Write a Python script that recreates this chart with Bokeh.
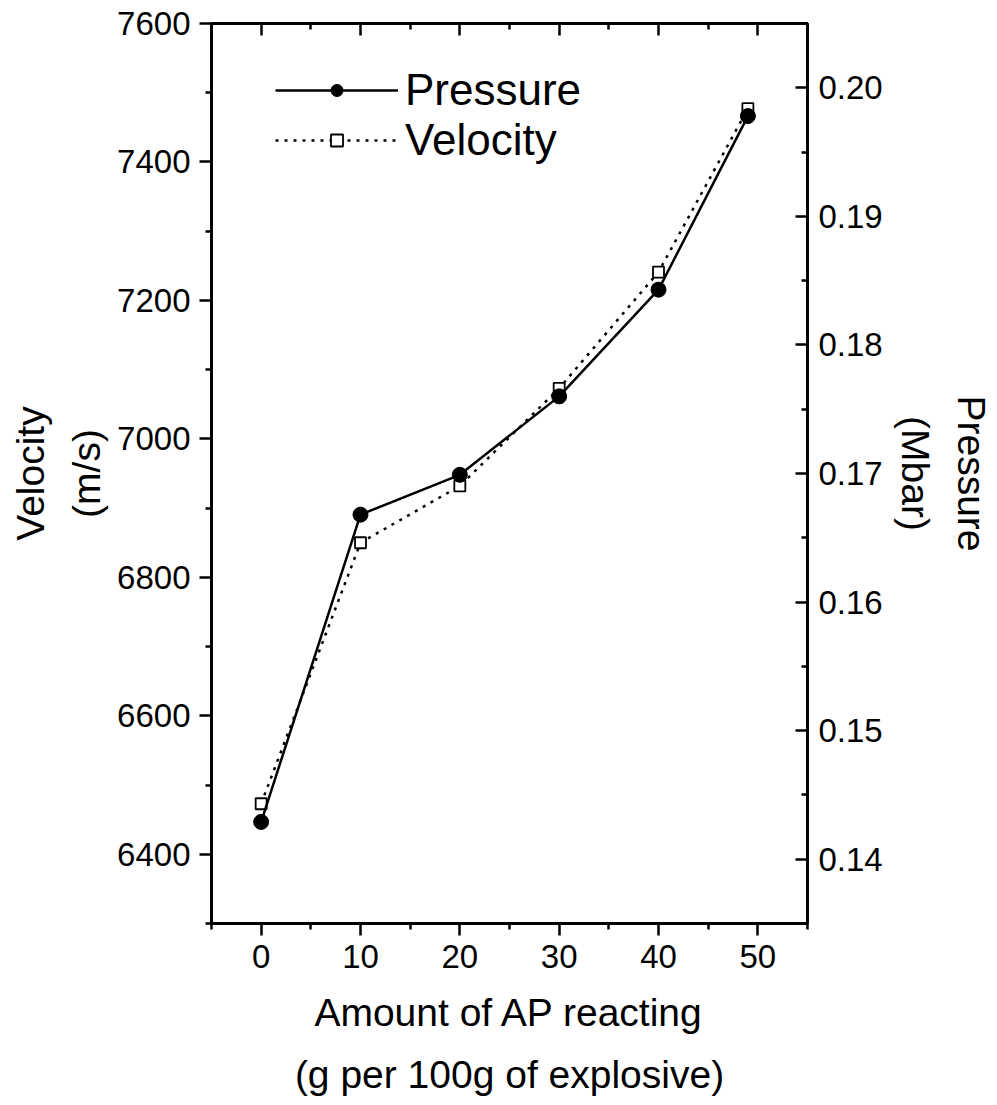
from bokeh.plotting import figure
from bokeh.models import (Range1d, LinearAxis, FixedTicker, NumeralTickFormatter,
                          Legend, LegendItem)
from bokeh.embed import file_html
from bokeh.resources import INLINE

# ---- data ----
ap_reacting = [0, 10, 20, 30, 40, 49]
pressure_mbar = [0.1429, 0.1668, 0.1699, 0.1760, 0.1843, 0.1978]
velocity_ms = [6473, 6850, 6932, 7073, 7241, 7477]

x_major = [0, 10, 20, 30, 40, 50]
x_minor = [-5, 5, 15, 25, 35, 45, 55]
v_major = [6400, 6600, 6800, 7000, 7200, 7400, 7600]
v_minor = [6300, 6500, 6700, 6900, 7100, 7300, 7500]
p_major = [0.14, 0.15, 0.16, 0.17, 0.18, 0.19, 0.20]
p_minor = [0.135, 0.145, 0.155, 0.165, 0.175, 0.185, 0.195, 0.205]

FONT = "Liberation Sans"
TICK_FS = "33px"
TITLE_FS = "39px"

p = figure(width=995, height=1100,
           x_range=Range1d(-5, 55), y_range=Range1d(6300, 7600),
           output_backend="svg", toolbar_location=None,
           min_border_left=211, min_border_right=188,
           min_border_top=23, min_border_bottom=177)
p.extra_y_ranges = {"p": Range1d(0.135, 0.205)}
p.xgrid.visible = False
p.ygrid.visible = False
p.outline_line_color = "black"
p.outline_line_width = 2.5
p.background_fill_color = "white"
p.border_fill_color = "white"


def style(ax, inward=False):
    ax.axis_line_width = 2.8
    ax.axis_line_color = "black"
    ax.major_tick_line_width = 2.5
    ax.minor_tick_line_width = 2.5
    ax.major_tick_line_color = "black"
    ax.minor_tick_line_color = "black"
    if inward:
        ax.major_tick_in, ax.major_tick_out = 12, 0
        ax.minor_tick_in, ax.minor_tick_out = 6, 0
    else:
        ax.major_tick_in, ax.major_tick_out = 0, 12
        ax.minor_tick_in, ax.minor_tick_out = 0, 6
    ax.major_label_text_font = FONT
    ax.major_label_text_font_size = TICK_FS
    ax.major_label_text_color = "black"
    ax.axis_label_text_font = FONT
    ax.axis_label_text_font_size = TITLE_FS
    ax.axis_label_text_font_style = "normal"
    ax.axis_label_text_color = "black"
    ax.axis_label_text_line_height = 1.3


# bottom axis
xa = p.xaxis[0]
xa.ticker = FixedTicker(ticks=x_major, minor_ticks=x_minor)
style(xa)
xa.major_label_standoff = 9
xa.axis_label = "Amount of AP reacting\n(g per 100g of explosive)"
xa.axis_label_text_line_height = 1.45
xa.axis_label_standoff = 20

# left axis
ya = p.yaxis[0]
ya.ticker = FixedTicker(ticks=v_major, minor_ticks=v_minor)
style(ya)
ya.major_label_standoff = 9
ya.axis_label = "Velocity\n(m/s)"
ya.axis_label_standoff = 6

# right axis (pressure)
ra = LinearAxis(y_range_name="p", ticker=FixedTicker(ticks=p_major, minor_ticks=p_minor),
                formatter=NumeralTickFormatter(format="0.00"))
style(ra, inward=True)
ra.major_label_standoff = 11
ra.axis_label = "Pressure\n(Mbar)"
ra.axis_label_standoff = 8
p.add_layout(ra, "right")

# top axis (ticks only)
ta = LinearAxis(ticker=FixedTicker(ticks=x_major, minor_ticks=x_minor))
style(ta, inward=True)
ta.major_label_overrides = {t: "" for t in x_major}
ta.major_label_standoff = 0
p.add_layout(ta, "above")

# ---- series ----
r_vl = p.line(ap_reacting, velocity_ms, line_color="black", line_width=2.5, line_dash="3 6")
r_vs = p.scatter(ap_reacting, velocity_ms, marker="square", size=11,
                 fill_color="white", line_color="black", line_width=1.8)
r_pl = p.line(ap_reacting, pressure_mbar, y_range_name="p", line_color="black", line_width=2.5)
r_ps = p.scatter(ap_reacting, pressure_mbar, y_range_name="p", marker="circle", size=15,
                 fill_color="black", line_color="black")

legend = Legend(items=[LegendItem(label="Pressure", renderers=[r_pl, r_ps]),
                       LegendItem(label="Velocity", renderers=[r_vl, r_vs])],
                location=(64, 758), padding=0, spacing=0, margin=0,
                glyph_width=123, glyph_height=30, label_height=50,
                label_standoff=7, label_text_font=FONT, label_text_font_size="44px",
                label_text_color="black", background_fill_alpha=0,
                border_line_color=None)
p.add_layout(legend)

open("out.html", "w").write(file_html(p, INLINE))
